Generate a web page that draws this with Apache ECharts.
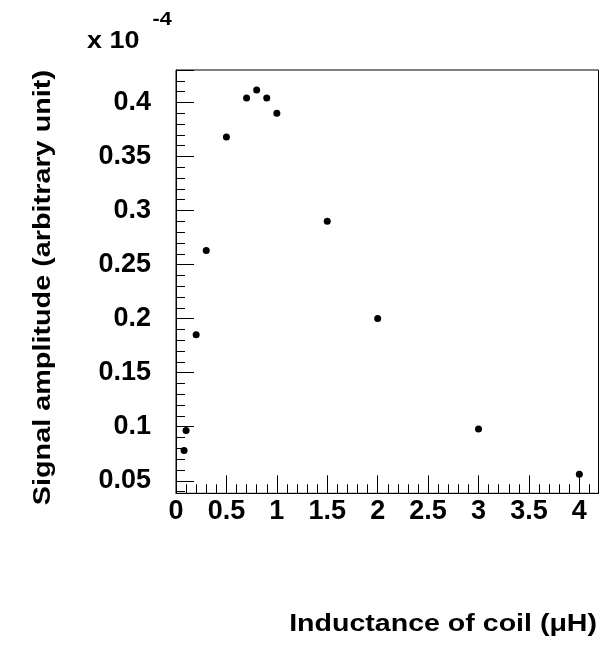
<!DOCTYPE html>
<html>
<head>
<meta charset="utf-8">
<script src="https://cdn.jsdelivr.net/npm/echarts@6/dist/echarts.min.js"></script>
<style>
  html, body { margin: 0; padding: 0; background: #fff; }
  #chart { width: 604px; height: 648px; }
</style>
</head>
<body>
<div id="chart"></div>
<script>
// Coil inductance (µH) and measured signal amplitude (in units of 1e-4)
const inductance = [0.08, 0.1, 0.2, 0.3, 0.5, 0.7, 0.8, 0.9, 1.0, 1.5, 2.0, 3.0, 4.0];
const amplitude  = [0.078, 0.0965, 0.185, 0.263, 0.368, 0.404, 0.4115, 0.404, 0.390, 0.290, 0.200, 0.098, 0.056];

const xTitle = 'Inductance of coil (\u03bcH)';
const yTitle = 'Signal amplitude (arbitrary unit)';
const yScaleText = 'x 10';
const yScaleExp = '-4';

const FONT = '"Liberation Sans", Arial, Helvetica, sans-serif';

const xRange = [0, 4.19];
const yRange = [0.0384, 0.43];

function onStep(v, step) {
  const r = v / step;
  return Math.abs(r - Math.round(r)) < 1e-6;
}

const chart = echarts.init(document.getElementById('chart'), null, { renderer: 'canvas' });

const labelStyle = { color: '#000', fontFamily: FONT, fontWeight: 'bold', fontSize: 27 };

chart.setOption({
  backgroundColor: '#fff',
  animation: false,
  grid: {
    left: 176, top: 70, width: 422.5, height: 423.3,
    show: true, borderColor: '#000', borderWidth: 1, backgroundColor: 'transparent'
  },
  xAxis: [
    {
      // major ticks every 0.5 with labels
      type: 'value', position: 'bottom', min: xRange[0], max: xRange[1],
      minInterval: 0.5, maxInterval: 0.5, splitNumber: 8,
      axisLine: { show: true, lineStyle: { color: '#000', width: 1 } },
      axisTick: { show: true, inside: true, length: 18, lineStyle: { color: '#000', width: 1 } },
      axisLabel: Object.assign({ margin: 5, showMinLabel: true, showMaxLabel: true,
        formatter: v => onStep(v, 0.5) ? String(+v.toFixed(2)) : '' }, labelStyle),
      splitLine: { show: false }
    },
    {
      // minor ticks every 0.1
      type: 'value', position: 'bottom', min: xRange[0], max: xRange[1],
      minInterval: 0.1, maxInterval: 0.1, splitNumber: 42,
      axisLine: { show: false },
      axisTick: { show: true, inside: true, length: 9, lineStyle: { color: '#000', width: 1 } },
      axisLabel: { show: false },
      splitLine: { show: false }
    }
  ],
  yAxis: [
    {
      // major ticks every 0.05 with labels
      type: 'value', position: 'left', min: yRange[0], max: yRange[1],
      minInterval: 0.05, maxInterval: 0.05, splitNumber: 8,
      axisLine: { show: true, lineStyle: { color: '#000', width: 1 } },
      axisTick: { show: true, inside: true, length: 18, lineStyle: { color: '#000', width: 1 } },
      axisLabel: Object.assign({ margin: 25, showMinLabel: true, showMaxLabel: true,
        formatter: v => onStep(v, 0.05) ? String(+v.toFixed(3)) : '' }, labelStyle),
      splitLine: { show: false }
    },
    {
      // minor ticks every 0.01
      type: 'value', position: 'left', min: yRange[0], max: yRange[1],
      minInterval: 0.01, maxInterval: 0.01, splitNumber: 39,
      axisLine: { show: false },
      axisTick: { show: true, inside: true, length: 9, lineStyle: { color: '#000', width: 1 } },
      axisLabel: { show: false },
      splitLine: { show: false }
    }
  ],
  series: [{
    type: 'scatter',
    xAxisIndex: 0, yAxisIndex: 0,
    symbol: 'circle', symbolSize: 7,
    itemStyle: { color: '#000', opacity: 1 },
    data: inductance.map((x, i) => [x, amplitude[i]])
  }],
  graphic: [
    { type: 'text', x: 87, y: 42, scaleX: 1.17, silent: true,
      style: { text: yScaleText, fill: '#000', font: 'bold 23px ' + FONT, align: 'left', verticalAlign: 'middle' } },
    { type: 'text', x: 152.5, y: 20.5, scaleX: 1.2, silent: true,
      style: { text: yScaleExp, fill: '#000', font: 'bold 18px ' + FONT, align: 'left', verticalAlign: 'middle' } },
    { type: 'text', x: 597, y: 624, scaleX: 1.19, silent: true,
      style: { text: xTitle, fill: '#000', font: 'bold 24px ' + FONT, align: 'right', verticalAlign: 'middle' } },
    { type: 'text', x: 43, y: 70, rotation: Math.PI / 2, scaleX: 1.2, silent: true,
      style: { text: yTitle, fill: '#000', font: 'bold 24px ' + FONT, align: 'right', verticalAlign: 'middle' } }
  ]
});
</script>
</body>
</html>
